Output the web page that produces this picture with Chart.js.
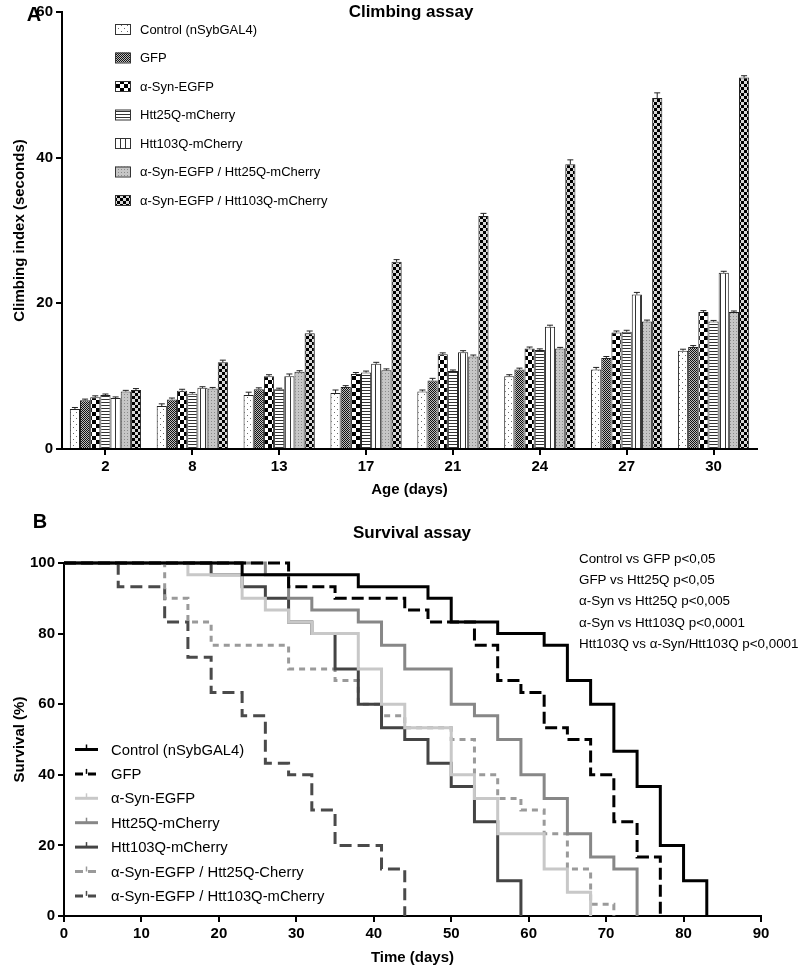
<!DOCTYPE html>
<html>
<head>
<meta charset="utf-8">
<script src="https://cdn.jsdelivr.net/npm/chart.js@4.4.1/dist/chart.umd.min.js"></script>
<style>
body { margin: 0; background: #fff; font-family: "Liberation Sans", Arial, sans-serif; }
#page { position: relative; width: 800px; height: 972px; }
.box { position: absolute; left: 0; width: 800px; }
.lbl { position: absolute; transform: translate(-50%, -50%); font-weight: bold; white-space: nowrap; color: #000; }
#pvals { position: absolute; left: 579px; top: 548px; font-size: 13.4px; line-height: 21.2px; color: #000; white-space: nowrap; }
</style>
</head>
<body>
<div id="page">
  <div class="box" style="top:0;height:505px"><canvas id="climbChart"></canvas></div>
  <div class="box" style="top:505px;height:467px"><canvas id="survChart"></canvas></div>
  <div class="lbl" style="left:34px;top:14px;font-size:20px">A</div>
  <div class="lbl" style="left:411px;top:12px;font-size:17px">Climbing assay</div>
  <div class="lbl" style="left:40px;top:521px;font-size:20px">B</div>
  <div class="lbl" style="left:412px;top:533px;font-size:17px">Survival assay</div>
  <div id="pvals">
    Control vs GFP p&lt;0,05<br>
    GFP vs Htt25Q p&lt;0,05<br>
    α-Syn vs Htt25Q p&lt;0,005<br>
    α-Syn vs Htt103Q p&lt;0,0001<br>
    Htt103Q vs α-Syn/Htt103Q p&lt;0,0001
  </div>
</div>
<script>
// climbing assay (panel A)
var ages = ['2', '8', '13', '17', '21', '24', '27', '30'];
var climbNames = ['Control (nSybGAL4)', 'GFP', 'α-Syn-EGFP', 'Htt25Q-mCherry', 'Htt103Q-mCherry',
                  'α-Syn-EGFP / Htt25Q-mCherry', 'α-Syn-EGFP / Htt103Q-mCherry'];
var climbControl = [5.5, 5.9, 7.4, 7.7, 7.9, 10.0, 10.9, 13.5];
var climbGFP     = [6.7, 6.8, 8.2, 8.5, 9.4, 10.9, 12.5, 14.0];
var climbSyn     = [7.1, 8.0, 10.0, 10.3, 13.0, 13.8, 16.0, 18.8];
var climbHtt25   = [7.4, 7.6, 8.2, 10.5, 10.7, 13.6, 16.1, 17.5];
var climbHtt103  = [7.0, 8.4, 10.0, 11.7, 13.3, 16.8, 21.2, 24.2];
var climbSyn25   = [7.9, 8.3, 10.6, 10.8, 12.7, 13.8, 17.5, 18.8];
var climbSyn103  = [8.1, 11.9, 15.9, 25.7, 32.0, 39.1, 48.2, 51.0];

var errControl = [0.2, 0.3, 0.4, 0.4, 0.2, 0.2, 0.3, 0.2];
var errGFP     = [0.15, 0.2, 0.2, 0.2, 0.3, 0.2, 0.2, 0.2];
var errSyn     = [0.2, 0.2, 0.2, 0.2, 0.2, 0.2, 0.2, 0.2];
var errHtt25   = [0.15, 0.15, 0.15, 0.2, 0.15, 0.15, 0.2, 0.15];
var errHtt103  = [0.15, 0.15, 0.3, 0.2, 0.2, 0.2, 0.3, 0.2];
var errSyn25   = [0.15, 0.15, 0.15, 0.2, 0.2, 0.15, 0.2, 0.15];
var errSyn103  = [0.2, 0.3, 0.3, 0.3, 0.35, 0.6, 0.7, 0.25];

// survival assay (panel B), Kaplan-Meier steps: day of drop -> % alive after
var survNames = ['Control (nSybGAL4)', 'GFP', 'α-Syn-EGFP', 'Htt25Q-mCherry', 'Htt103Q-mCherry',
                 'α-Syn-EGFP / Htt25Q-Cherry', 'α-Syn-EGFP / Htt103Q-mCherry'];
var daysControl = [0, 23, 38, 47, 50, 56, 62, 65, 68, 71, 74, 77, 80, 83];
var survControl = [100, 96.7, 93.3, 90, 83.3, 80, 76.7, 66.7, 60, 46.7, 36.7, 20, 10, 0];
var daysGFP = [0, 29, 35, 44, 47, 53, 56, 59, 62, 65, 68, 71, 74, 77];
var survGFP = [100, 93.3, 90, 86.7, 83.3, 76.7, 66.7, 63.3, 53.3, 50, 40, 26.7, 16.7, 0];
var daysSyn = [0, 16, 23, 26, 29, 32, 38, 41, 44, 50, 53, 56, 62, 65, 68];
var survSyn = [100, 96.7, 90, 86.7, 83.3, 80, 70, 60, 53.3, 40, 33.3, 23.3, 13.3, 6.7, 0];
var daysHtt25 = [0, 26, 29, 32, 38, 41, 44, 50, 53, 56, 59, 62, 65, 68, 71, 74];
var survHtt25 = [100, 96.7, 90, 86.7, 83.3, 76.7, 70, 60, 56.7, 50, 40, 33.3, 23.3, 16.7, 13.3, 0];
var daysHtt103 = [0, 19, 23, 26, 29, 32, 35, 38, 41, 44, 47, 50, 53, 56, 59];
var survHtt103 = [100, 96.7, 93.3, 90, 83.3, 80, 70, 60, 53.3, 50, 43.3, 36.7, 26.7, 10, 0];
var daysSyn25 = [0, 13, 16, 19, 29, 35, 38, 41, 44, 50, 53, 56, 59, 62, 65, 68, 71];
var survSyn25 = [100, 90, 83.3, 76.7, 70, 66.7, 60, 56.7, 53.3, 50, 40, 33.3, 30, 23.3, 13.3, 3.3, 0];
var daysSyn103 = [0, 7, 13, 16, 19, 23, 26, 29, 32, 35, 41, 44];
var survSyn103 = [100, 93.3, 83.3, 73.3, 63.3, 56.7, 43.3, 40, 30, 20, 13.3, 0];

Chart.defaults.font.family = '"Liberation Sans", Arial, sans-serif';
Chart.defaults.color = '#000';

function makePattern(kind) {
    var c = document.createElement('canvas');
    var g;
    if (kind == 'dots') {
        c.width = 6; c.height = 6; g = c.getContext('2d');
        g.fillStyle = '#fff'; g.fillRect(0, 0, 6, 6);
        g.fillStyle = '#6a6a6a'; g.fillRect(1, 1, 1, 1); g.fillRect(4, 4, 1, 1);
    } else if (kind == 'dense') {
        c.width = 2; c.height = 2; g = c.getContext('2d');
        g.fillStyle = '#bdbdbd'; g.fillRect(0, 0, 2, 2);
        g.fillStyle = '#111'; g.fillRect(0, 0, 1, 1); g.fillRect(1, 1, 1, 1);
    } else if (kind == 'checker') {
        c.width = 8; c.height = 8; g = c.getContext('2d');
        g.fillStyle = '#fff'; g.fillRect(0, 0, 8, 8);
        g.fillStyle = '#000'; g.fillRect(0, 0, 4, 4); g.fillRect(4, 4, 4, 4);
    } else if (kind == 'hlines') {
        c.width = 3; c.height = 3; g = c.getContext('2d');
        g.fillStyle = '#fff'; g.fillRect(0, 0, 3, 3);
        g.fillStyle = '#333'; g.fillRect(0, 0, 3, 1);
    } else if (kind == 'vlines') {
        c.width = 5; c.height = 5; g = c.getContext('2d');
        g.fillStyle = '#fff'; g.fillRect(0, 0, 5, 5);
        g.fillStyle = '#333'; g.fillRect(0, 0, 1, 5);
    } else if (kind == 'graydots') {
        c.width = 3; c.height = 3; g = c.getContext('2d');
        g.fillStyle = '#c6c6c6'; g.fillRect(0, 0, 3, 3);
        g.fillStyle = '#8a8a8a'; g.fillRect(1, 1, 1, 1);
    } else {
        c.width = 6; c.height = 6; g = c.getContext('2d');
        g.fillStyle = '#d8d8d8'; g.fillRect(0, 0, 6, 6);
        g.fillStyle = '#000'; g.fillRect(0, 0, 3, 3); g.fillRect(3, 3, 3, 3);
    }
    return g.createPattern(c, 'repeat');
}

var climbSets = [climbControl, climbGFP, climbSyn, climbHtt25, climbHtt103, climbSyn25, climbSyn103];
var climbErrs = [errControl, errGFP, errSyn, errHtt25, errHtt103, errSyn25, errSyn103];
var fills = ['dots', 'dense', 'checker', 'hlines', 'vlines', 'graydots', 'checker2'].map(makePattern);

var errorBars = {
    id: 'errorBars',
    afterDatasetsDraw: function (chart) {
        var ctx = chart.ctx, ys = chart.scales.y;
        ctx.save();
        ctx.strokeStyle = '#222';
        ctx.lineWidth = 1;
        chart.data.datasets.forEach(function (ds, i) {
            chart.getDatasetMeta(i).data.forEach(function (bar, j) {
                var top = ys.getPixelForValue(ds.data[j] + ds.errors[j]);
                ctx.beginPath();
                ctx.moveTo(bar.x, bar.y);
                ctx.lineTo(bar.x, top);
                ctx.moveTo(bar.x - 3, top);
                ctx.lineTo(bar.x + 3, top);
                ctx.stroke();
            });
        });
        ctx.restore();
    }
};

var climbLegend = {
    id: 'climbLegend',
    afterDraw: function (chart) {
        var ctx = chart.ctx;
        ctx.save();
        ctx.font = '13px "Liberation Sans", Arial, sans-serif';
        ctx.textBaseline = 'middle';
        chart.data.datasets.forEach(function (ds, i) {
            var y = 29 + i * 28.5;
            ctx.fillStyle = ds.backgroundColor;
            ctx.fillRect(115, y - 5, 15, 10);
            ctx.strokeStyle = '#333';
            ctx.lineWidth = 1;
            ctx.strokeRect(115.5, y - 4.5, 15, 10);
            ctx.fillStyle = '#000';
            ctx.fillText(ds.label, 140, y + 1);
        });
        ctx.restore();
    }
};

function axisStyle() {
    return {
        grid: { drawOnChartArea: false, tickLength: 6, lineWidth: 2, color: '#000', offset: false },
        border: { display: true, width: 2, color: '#000' },
        ticks: { font: { size: 15, weight: 'bold' }, color: '#000', padding: 3 }
    };
}

var climbX = axisStyle();
climbX.title = { display: true, text: 'Age (days)', font: { size: 15, weight: 'bold' }, padding: { top: 0, bottom: 6 } };
climbX.afterFit = function (s) { s.height = 56; };
var climbY = axisStyle();
climbY.min = 0; climbY.max = 60;
climbY.ticks.stepSize = 20;
climbY.title = { display: true, text: 'Climbing index (seconds)', font: { size: 15, weight: 'bold' }, padding: { top: 11, bottom: 0 } };
climbY.afterFit = function (s) { s.width = 62; };

new Chart(document.getElementById('climbChart'), {
    type: 'bar',
    data: {
        labels: ages,
        datasets: climbNames.map(function (name, i) {
            return {
                label: name,
                data: climbSets[i],
                errors: climbErrs[i],
                backgroundColor: fills[i],
                borderColor: '#222',
                borderWidth: 1,
                categoryPercentage: 0.82,
                barPercentage: 1
            };
        })
    },
    options: {
        responsive: true,
        maintainAspectRatio: false,
        animation: false,
        layout: { padding: { top: 8, right: 43, left: 0, bottom: 0 } },
        plugins: { legend: { display: false }, tooltip: { enabled: false } },
        scales: { x: climbX, y: climbY }
    },
    plugins: [errorBars, climbLegend]
});

// survival chart
var survDays = [daysControl, daysGFP, daysSyn, daysHtt25, daysHtt103, daysSyn25, daysSyn103];
var survVals = [survControl, survGFP, survSyn, survHtt25, survHtt103, survSyn25, survSyn103];
var lineColors = ['#000', '#000', '#c8c8c8', '#878787', '#444', '#9a9a9a', '#4a4a4a'];
var lineDashes = [[], [12, 5], [], [], [], [6, 5], [12, 6]];

var survLegend = {
    id: 'survLegend',
    afterDraw: function (chart) {
        var ctx = chart.ctx;
        ctx.save();
        ctx.font = '14.8px "Liberation Sans", Arial, sans-serif';
        ctx.textBaseline = 'middle';
        chart.data.datasets.forEach(function (ds, i) {
            var y = 244.5 + i * 24.4;
            ctx.strokeStyle = ds.borderColor;
            ctx.lineWidth = 3;
            ctx.setLineDash(ds.borderDash.length ? [8, 5] : []);
            ctx.beginPath();
            ctx.moveTo(75, y);
            ctx.lineTo(98, y);
            ctx.stroke();
            ctx.setLineDash([]);
            ctx.lineWidth = 1.5;
            ctx.beginPath();
            ctx.moveTo(86.5, y);
            ctx.lineTo(86.5, y - 5);
            ctx.stroke();
            ctx.fillStyle = '#000';
            ctx.fillText(ds.label, 111, y + 1);
        });
        ctx.restore();
    }
};

var survX = axisStyle();
survX.type = 'linear';
survX.min = 0; survX.max = 90;
survX.ticks.stepSize = 10;
survX.title = { display: true, text: 'Time (days)', font: { size: 15, weight: 'bold' }, padding: { top: 0, bottom: 5 } };
survX.afterFit = function (s) { s.height = 56; };
var survY = axisStyle();
survY.min = 0; survY.max = 100;
survY.ticks.stepSize = 20;
survY.title = { display: true, text: 'Survival (%)', font: { size: 15, weight: 'bold' }, padding: { top: 11, bottom: 0 } };
survY.afterFit = function (s) { s.width = 64; };

new Chart(document.getElementById('survChart'), {
    type: 'line',
    data: {
        datasets: survNames.map(function (name, i) {
            return {
                label: name,
                data: survDays[i].map(function (d, k) { return { x: d, y: survVals[i][k] }; }),
                stepped: true,
                borderColor: lineColors[i],
                borderDash: lineDashes[i],
                borderWidth: 3,
                pointRadius: 0,
                fill: false,
                clip: 4
            };
        })
    },
    options: {
        responsive: true,
        maintainAspectRatio: false,
        animation: false,
        layout: { padding: { top: 58, right: 39, left: 0, bottom: 0 } },
        plugins: { legend: { display: false }, tooltip: { enabled: false } },
        scales: { x: survX, y: survY }
    },
    plugins: [survLegend]
});
</script>
</body>
</html>
